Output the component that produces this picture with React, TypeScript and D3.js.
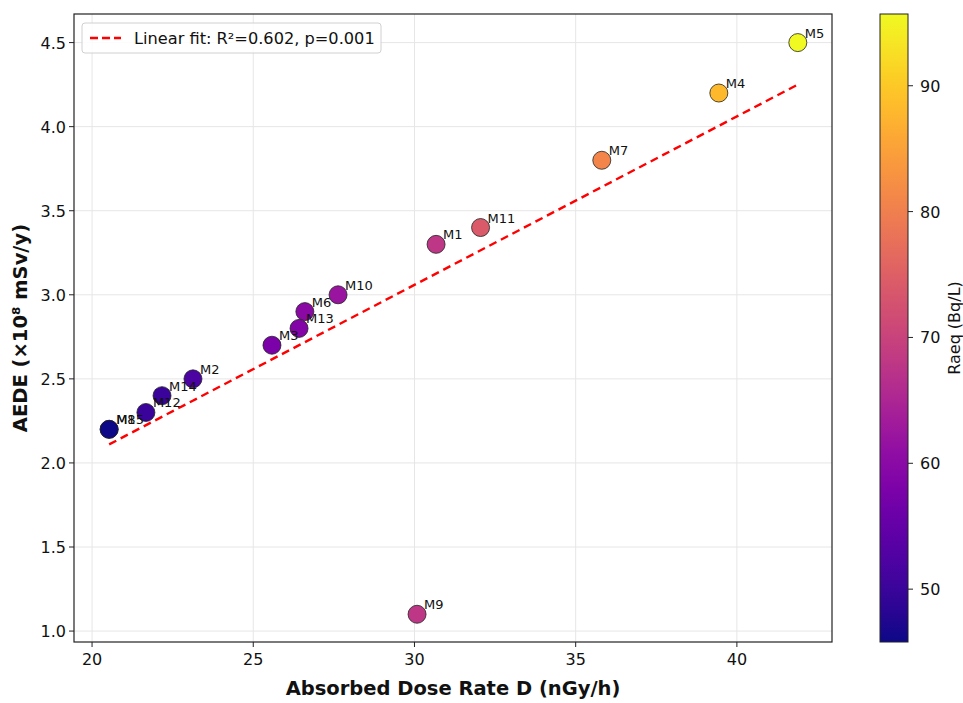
import React from "react";
import * as d3 from "d3";

const sites = ["M1","M2","M3","M4","M5","M6","M7","M8","M9","M10","M11","M12","M13","M14","M15"];
const doseRate = [30.67,23.13,25.58,39.44,41.89,26.60,35.81,20.53,30.08,27.63,32.05,21.67,26.42,22.17,20.53];
const aede = [3.3,2.5,2.7,4.2,4.5,2.9,3.8,2.2,1.1,3.0,3.4,2.3,2.8,2.4,2.2];
const raeq = [68,52,58,88,95.7,60,81,45.8,68,62,74,50,59,50,45.8];
const xTicks = [20,25,30,35,40];
const yTicks = [1.0,1.5,2.0,2.5,3.0,3.5,4.0,4.5];
const cTicks = [50,60,70,80,90];

const W = 963, H = 703;
const L = 74, R = 832, T = 14, B = 642;
const CBX = 880, CBW = 28;
const FONT = "'DejaVu Sans', sans-serif";

export default function App() {
  const x = d3.scaleLinear().domain([19.44, 42.95]).range([L, R]);
  const y = d3.scaleLinear().domain([0.935, 4.67]).range([B, T]);
  const cmin = d3.min(raeq)!, cmax = d3.max(raeq)!;
  const c = d3.scaleSequential(d3.interpolatePlasma).domain([cmin, cmax]);
  const cy = d3.scaleLinear().domain([cmin, cmax]).range([B, T]);

  const mx = d3.mean(doseRate)!, my = d3.mean(aede)!;
  let sxy = 0, sxx = 0;
  doseRate.forEach((v, i) => { sxy += (v - mx) * (aede[i] - my); sxx += (v - mx) ** 2; });
  const slope = sxy / sxx, icpt = my - slope * mx;
  const x0 = d3.min(doseRate)!, x1 = d3.max(doseRate)!;

  const stops = d3.range(0, 1.0001, 0.05);
  const order = d3.range(sites.length);

  return (
    <svg width={W} height={H} style={{ position: "absolute", left: 0, top: 0, fontFamily: FONT }}>
      <defs>
        <linearGradient id="cb" x1="0" y1="1" x2="0" y2="0">
          {stops.map((s) => <stop key={s} offset={s} stopColor={d3.interpolatePlasma(s)} />)}
        </linearGradient>
        <clipPath id="plot"><rect x={L} y={T} width={R - L} height={B - T} /></clipPath>
      </defs>
      <rect width={W} height={H} fill="#fff" />
      {xTicks.map((t) => <line key={"gx" + t} x1={x(t)} x2={x(t)} y1={T} y2={B} stroke="#e6e6e6" strokeWidth={1} />)}
      {yTicks.map((t) => <line key={"gy" + t} x1={L} x2={R} y1={y(t)} y2={y(t)} stroke="#e6e6e6" strokeWidth={1} />)}
      <line clipPath="url(#plot)" x1={x(x0)} y1={y(icpt + slope * x0)} x2={x(x1)} y2={y(icpt + slope * x1)}
        stroke="#ff0000" strokeWidth={2.4} strokeDasharray="8,5" />
      {order.map((i) => (
        <circle key={sites[i]} cx={x(doseRate[i])} cy={y(aede[i])} r={9} fill={c(raeq[i])} stroke="#222" strokeWidth={0.8} />
      ))}
      {order.map((i) => (
        <text key={"l" + sites[i]} x={x(doseRate[i]) + 7} y={y(aede[i]) - 5} fontSize={13} fill="#111">{sites[i]}</text>
      ))}
      <rect x={L} y={T} width={R - L} height={B - T} fill="none" stroke="#222" strokeWidth={1.2} />
      {xTicks.map((t) => (
        <g key={"xt" + t}>
          <line x1={x(t)} x2={x(t)} y1={B} y2={B + 5} stroke="#222" />
          <text x={x(t)} y={B + 23} fontSize={16} textAnchor="middle" fill="#111">{t}</text>
        </g>
      ))}
      {yTicks.map((t) => (
        <g key={"yt" + t}>
          <line x1={L - 5} x2={L} y1={y(t)} y2={y(t)} stroke="#222" />
          <text x={L - 8} y={y(t) + 6} fontSize={16} textAnchor="end" fill="#111">{t.toFixed(1)}</text>
        </g>
      ))}
      <text x={(L + R) / 2} y={695} fontSize={19.5} fontWeight="bold" textAnchor="middle" fill="#111">Absorbed Dose Rate D (nGy/h)</text>
      <text transform={`translate(27,${(T + B) / 2}) rotate(-90)`} fontSize={19.5} fontWeight="bold" textAnchor="middle" fill="#111">AEDE (×10⁸ mSv/y)</text>
      <rect x={82} y={23} width={299} height={30} rx={3} fill="#fff" fillOpacity={0.85} stroke="#d0d0d0" />
      <line x1={90} x2={121} y1={38} y2={38} stroke="#ff0000" strokeWidth={2.4} strokeDasharray="8,4" />
      <text x={134} y={44} fontSize={16.2} fill="#111">Linear fit: R²=0.602, p=0.001</text>
      <rect x={CBX} y={T} width={CBW} height={B - T} fill="url(#cb)" stroke="#222" strokeWidth={1} />
      {cTicks.map((t) => (
        <g key={"ct" + t}>
          <line x1={CBX + CBW} x2={CBX + CBW + 5} y1={cy(t)} y2={cy(t)} stroke="#222" />
          <text x={CBX + CBW + 12} y={cy(t) + 6} fontSize={16} fill="#111">{t}</text>
        </g>
      ))}
      <text transform={`translate(960,${(T + B) / 2}) rotate(-90)`} fontSize={16} textAnchor="middle" fill="#111">Raeq (Bq/L)</text>
    </svg>
  );
}
